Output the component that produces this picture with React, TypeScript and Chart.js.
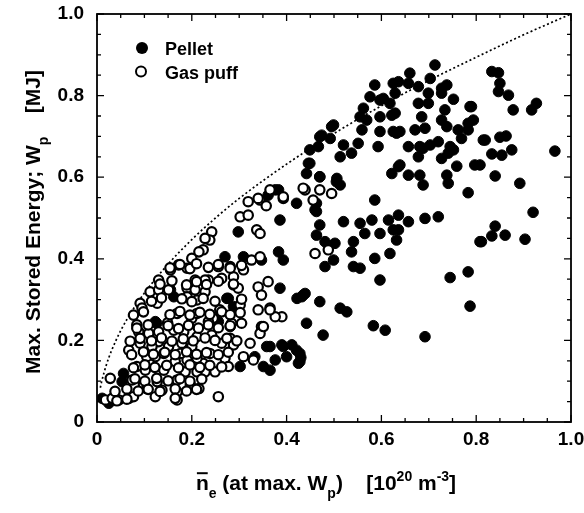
import React, { useEffect, useRef } from 'react';
import { Chart, registerables } from 'chart.js';

Chart.register(...registerables);

const FONT = '"Liberation Sans", Arial, Helvetica, sans-serif';

// Pellet (filled circles)
const pelletX = [
  0.833, 0.847, 0.850, 0.847, 0.868, 0.878, 0.917, 0.927, 0.819, 0.850, 0.863, 0.833, 0.854, 0.875, 0.966, 0.808, 0.840, 0.892, 0.920, 0.840, 0.833, 0.861, 0.811, 0.903,
  0.713, 0.660, 0.703, 0.636, 0.657, 0.678, 0.738, 0.629, 0.699, 0.727, 0.752, 0.678, 0.699, 0.734, 0.790, 0.629, 0.685, 0.727, 0.794, 0.639, 0.671, 0.692, 0.762, 0.783, 0.720, 0.815, 0.657, 0.681, 0.703, 0.745, 0.769, 0.678, 0.727, 0.741, 0.639, 0.759, 0.797, 0.657, 0.681, 0.738, 0.688, 0.741, 0.783, 0.636, 0.657, 0.692, 0.720, 0.636, 0.632, 0.808, 0.783, 0.745, 0.787, 0.692,
  0.586, 0.625, 0.576, 0.597, 0.618, 0.562, 0.555, 0.597, 0.622, 0.499, 0.559, 0.597, 0.625, 0.474, 0.492, 0.467, 0.520, 0.551, 0.593, 0.513, 0.537, 0.449, 0.442, 0.470, 0.506, 0.513, 0.622, 0.636, 0.460, 0.586, 0.520, 0.470, 0.555, 0.580, 0.615, 0.463, 0.481, 0.502, 0.541, 0.565, 0.597, 0.625, 0.537, 0.618, 0.499, 0.481, 0.541, 0.586, 0.555, 0.597, 0.439, 0.470, 0.513, 0.527, 0.422, 0.442, 0.477, 0.583, 0.608, 0.428, 0.430, 0.463,
  0.495, 0.470, 0.449, 0.446, 0.470, 0.505, 0.383, 0.421, 0.463, 0.376, 0.361, 0.386, 0.298, 0.383, 0.393, 0.270, 0.309, 0.347, 0.386, 0.432, 0.435, 0.277, 0.288, 0.281, 0.256,
  0.358, 0.390, 0.411, 0.421, 0.428, 0.400, 0.376, 0.351, 0.365, 0.333, 0.365, 0.393, 0.425, 0.302,
  0.126, 0.123, 0.056, 0.053, 0.038, 0.011, 0.025, 0.162, 0.155, 0.245, 0.274,
  0.727, 0.604, 0.787, 0.569, 0.632, 0.738, 0.783, 0.688, 0.752,
];
const pelletY = [
  0.859, 0.856, 0.830, 0.810, 0.801, 0.765, 0.765, 0.781, 0.691, 0.698, 0.701, 0.657, 0.654, 0.667, 0.664, 0.630, 0.603, 0.585, 0.514, 0.480, 0.456, 0.458, 0.442, 0.448,
  0.875, 0.855, 0.842, 0.834, 0.830, 0.822, 0.826, 0.806, 0.806, 0.806, 0.791, 0.781, 0.781, 0.765, 0.773, 0.757, 0.748, 0.740, 0.740, 0.712, 0.716, 0.720, 0.716, 0.716, 0.687, 0.691, 0.675, 0.675, 0.679, 0.675, 0.695, 0.650, 0.646, 0.659, 0.630, 0.627, 0.630, 0.605, 0.605, 0.605, 0.581, 0.585, 0.562, 0.507, 0.491, 0.499, 0.503, 0.471, 0.446, 0.442, 0.368, 0.354, 0.284, 0.209,
  0.826, 0.830, 0.797, 0.789, 0.781, 0.769, 0.748, 0.748, 0.752, 0.728, 0.716, 0.712, 0.712, 0.703, 0.695, 0.675, 0.679, 0.683, 0.675, 0.650, 0.659, 0.634, 0.609, 0.601, 0.597, 0.581, 0.609, 0.626, 0.520, 0.544, 0.491, 0.483, 0.487, 0.495, 0.495, 0.458, 0.442, 0.438, 0.442, 0.462, 0.462, 0.471, 0.417, 0.413, 0.397, 0.381, 0.381, 0.401, 0.377, 0.348, 0.315, 0.295, 0.279, 0.270, 0.303, 0.242, 0.213, 0.236, 0.225, 0.168, 0.158, 0.536,
  0.724, 0.699, 0.667, 0.634, 0.601, 0.589, 0.569, 0.536, 0.516, 0.569, 0.556, 0.495, 0.466, 0.417, 0.397, 0.405, 0.405, 0.397, 0.328, 0.307, 0.311, 0.303, 0.283, 0.234, 0.246,
  0.185, 0.189, 0.189, 0.176, 0.148, 0.160, 0.152, 0.136, 0.127, 0.160, 0.185, 0.185, 0.144, 0.136,
  0.242, 0.246, 0.119, 0.099, 0.054, 0.058, 0.046, 0.307, 0.324, 0.250, 0.303,
  0.818, 0.793, 0.773, 0.740, 0.708, 0.724, 0.732, 0.671, 0.667,
];

// Gas puff (open circles)
const gasX = [
  0.439, 0.470, 0.495, 0.456, 0.460, 0.488, 0.435, 0.393, 0.365, 0.344, 0.319, 0.357, 0.340, 0.393, 0.302, 0.319, 0.242, 0.238, 0.337, 0.344, 0.224, 0.326, 0.344, 0.256, 0.281, 0.309, 0.235, 0.263, 0.288, 0.288, 0.298, 0.340, 0.361, 0.347, 0.228, 0.302, 0.340, 0.365, 0.390, 0.376, 0.259, 0.245, 0.235, 0.284, 0.305, 0.347, 0.344, 0.242, 0.281, 0.263, 0.288, 0.323, 0.309, 0.330, 0.238, 0.270, 0.224, 0.249, 0.277, 0.228, 0.256, 0.365, 0.351,
  0.228, 0.215, 0.200, 0.172, 0.190, 0.155, 0.130, 0.112, 0.130, 0.151, 0.190, 0.207, 0.207, 0.228, 0.091, 0.190, 0.211,
  0.095, 0.127, 0.084, 0.088, 0.067, 0.109, 0.130, 0.149, 0.162, 0.183, 0.211, 0.169, 0.200, 0.211, 0.130, 0.151, 0.105, 0.123, 0.165, 0.190, 0.211, 0.084, 0.102, 0.141, 0.186, 0.211, 0.028, 0.074, 0.098, 0.127, 0.169, 0.197, 0.215, 0.169, 0.169, 0.018, 0.032, 0.046, 0.067, 0.077, 0.105, 0.137, 0.123, 0.091, 0.116, 0.141, 0.179, 0.200, 0.176,
  0.154, 0.175, 0.196, 0.210, 0.235, 0.256, 0.281, 0.305,
  0.133, 0.158, 0.189, 0.210, 0.231, 0.256, 0.288,
  0.115, 0.136, 0.179, 0.200, 0.224, 0.249, 0.305,
  0.077, 0.098, 0.154, 0.175, 0.196, 0.217, 0.238, 0.263, 0.281, 0.302,
  0.084, 0.108, 0.150, 0.172, 0.193, 0.214, 0.235, 0.256, 0.281,
  0.070, 0.091, 0.115, 0.136, 0.158, 0.182, 0.203, 0.228, 0.249, 0.274, 0.295,
  0.073, 0.098, 0.119, 0.143, 0.165, 0.189, 0.210, 0.231, 0.256, 0.277,
  0.077, 0.101, 0.122, 0.147, 0.172, 0.196, 0.217, 0.238, 0.263,
  0.080, 0.101, 0.126, 0.150, 0.175, 0.196, 0.221,
  0.038, 0.063, 0.087, 0.108, 0.133, 0.165, 0.189, 0.210,
  0.042, 0.063, 0.165,
];
const gasY = [
  0.569, 0.569, 0.560, 0.544, 0.413, 0.422, 0.573, 0.548, 0.569, 0.544, 0.540, 0.530, 0.548, 0.552, 0.503, 0.507, 0.466, 0.446, 0.471, 0.462, 0.422, 0.397, 0.405, 0.381, 0.381, 0.373, 0.348, 0.352, 0.356, 0.336, 0.328, 0.331, 0.344, 0.311, 0.319, 0.287, 0.275, 0.279, 0.258, 0.258, 0.275, 0.254, 0.246, 0.242, 0.242, 0.234, 0.217, 0.213, 0.205, 0.193, 0.189, 0.193, 0.160, 0.152, 0.168, 0.156, 0.144, 0.123, 0.136, 0.123, 0.062, 0.275, 0.234,
  0.450, 0.417, 0.401, 0.385, 0.377, 0.373, 0.348, 0.319, 0.324, 0.324, 0.328, 0.348, 0.324, 0.348, 0.291, 0.307, 0.299,
  0.279, 0.291, 0.238, 0.221, 0.176, 0.217, 0.221, 0.243, 0.225, 0.221, 0.209, 0.266, 0.254, 0.266, 0.197, 0.185, 0.160, 0.160, 0.148, 0.152, 0.156, 0.136, 0.127, 0.127, 0.123, 0.123, 0.107, 0.103, 0.091, 0.099, 0.103, 0.091, 0.082, 0.074, 0.054, 0.054, 0.058, 0.054, 0.058, 0.062, 0.082, 0.078, 0.062, 0.193, 0.185, 0.168, 0.193, 0.185, 0.168,
  0.378, 0.386, 0.376, 0.388, 0.379, 0.386, 0.377, 0.384,
  0.338, 0.346, 0.336, 0.344, 0.337, 0.345, 0.338,
  0.296, 0.304, 0.302, 0.295, 0.303, 0.296, 0.301,
  0.262, 0.270, 0.263, 0.271, 0.262, 0.269, 0.264, 0.270, 0.263, 0.268,
  0.230, 0.238, 0.236, 0.229, 0.237, 0.230, 0.238, 0.231, 0.236,
  0.198, 0.205, 0.199, 0.206, 0.198, 0.204, 0.199, 0.206, 0.200, 0.205, 0.199,
  0.165, 0.172, 0.166, 0.171, 0.165, 0.172, 0.166, 0.170, 0.165, 0.171,
  0.133, 0.140, 0.134, 0.139, 0.133, 0.140, 0.134, 0.139, 0.135,
  0.106, 0.100, 0.107, 0.101, 0.106, 0.100, 0.105,
  0.075, 0.081, 0.076, 0.080, 0.075, 0.081, 0.076, 0.080,
  0.052, 0.056, 0.058,
];

// Dotted reference curve
const curveX = [0.007, 0.01, 0.02, 0.03, 0.05, 0.075, 0.1, 0.15, 0.2, 0.25, 0.3, 0.4, 0.5, 0.6, 0.7, 0.8, 0.9, 1.0];
const curveY = [0.084, 0.1, 0.141, 0.173, 0.224, 0.274, 0.316, 0.387, 0.447, 0.5, 0.548, 0.632, 0.707, 0.775, 0.837, 0.894, 0.949, 1.0];

const xTickLabels = ['0', '0.2', '0.4', '0.6', '0.8', '1.0'];
const yTickLabels = ['0', '0.2', '0.4', '0.6', '0.8', '1.0'];
const legendLabels = ['Pellet', 'Gas puff'];

type Seg = { t: string; size: number; dy: number; over?: boolean };

function drawSegs(ctx: CanvasRenderingContext2D, segs: Seg[], cx: number, baseY: number) {
  let total = 0;
  const widths = segs.map((s) => {
    ctx.font = `bold ${s.size}px ${FONT}`;
    const w = ctx.measureText(s.t).width;
    total += w;
    return w;
  });
  let x = cx - total / 2;
  ctx.textAlign = 'left';
  ctx.textBaseline = 'alphabetic';
  segs.forEach((s, i) => {
    ctx.font = `bold ${s.size}px ${FONT}`;
    ctx.fillText(s.t, x, baseY + s.dy);
    if (s.over) {
      ctx.beginPath();
      ctx.lineWidth = 2;
      ctx.moveTo(x + 1, baseY - s.size * 0.8);
      ctx.lineTo(x + widths[i] - 1, baseY - s.size * 0.8);
      ctx.stroke();
    }
    x += widths[i];
  });
}

const framePlugin = {
  id: 'framePlugin',
  afterDraw(chart: any) {
    const ctx: CanvasRenderingContext2D = chart.ctx;
    const { left, right, top, bottom } = chart.chartArea;
    const xs = chart.scales.x;
    const ys = chart.scales.y;
    ctx.save();
    ctx.strokeStyle = '#000';
    ctx.fillStyle = '#000';
    ctx.lineWidth = 1.8;
    ctx.strokeRect(left, top, right - left, bottom - top);
    ctx.lineWidth = 1.3;
    for (let i = 0; i <= 20; i++) {
      const v = i * 0.05;
      const len = i % 4 === 0 ? 7 : 4;
      const px = xs.getPixelForValue(v);
      const py = ys.getPixelForValue(v);
      ctx.beginPath();
      ctx.moveTo(px, bottom); ctx.lineTo(px, bottom - len);
      ctx.moveTo(px, top); ctx.lineTo(px, top + len);
      ctx.moveTo(left, py); ctx.lineTo(left + len, py);
      ctx.moveTo(right, py); ctx.lineTo(right - len, py);
      ctx.stroke();
    }

    // Legend
    const pel = chart.data.datasets[1];
    const gas = chart.data.datasets[0];
    ctx.beginPath();
    ctx.arc(142, 48, 6, 0, Math.PI * 2);
    ctx.fillStyle = pel.pointBackgroundColor;
    ctx.fill();
    ctx.beginPath();
    ctx.arc(141, 71.5, 5, 0, Math.PI * 2);
    ctx.fillStyle = gas.pointBackgroundColor;
    ctx.fill();
    ctx.lineWidth = 2;
    ctx.stroke();
    ctx.fillStyle = '#000';
    ctx.font = `bold 18px ${FONT}`;
    ctx.textAlign = 'left';
    ctx.textBaseline = 'alphabetic';
    ctx.fillText(legendLabels[0], 165, 55);
    ctx.fillText(legendLabels[1], 165, 78.5);

    // X title
    drawSegs(ctx, [
      { t: 'n', size: 21, dy: 0, over: true },
      { t: 'e', size: 14, dy: 8 },
      { t: ' (at max. W', size: 21, dy: 0 },
      { t: 'p', size: 14, dy: 8 },
      { t: ')    [10', size: 21, dy: 0 },
      { t: '20', size: 14, dy: -9 },
      { t: ' m', size: 21, dy: 0 },
      { t: '-3', size: 14, dy: -9 },
      { t: ']', size: 21, dy: 0 },
    ], 326, 490);

    // Y title
    ctx.translate(40, 222);
    ctx.rotate(-Math.PI / 2);
    drawSegs(ctx, [
      { t: 'Max. Stored Energy; W', size: 21, dy: 0 },
      { t: 'p', size: 14, dy: 8 },
      { t: '    [MJ]', size: 21, dy: 0 },
    ], 0, 0);
    ctx.restore();
  },
};

export default function App() {
  const ref = useRef<HTMLCanvasElement>(null);
  useEffect(() => {
    const canvas = ref.current;
    if (!canvas) return;
    const chart = new Chart(canvas, {
      type: 'scatter',
      data: {
        datasets: [
          {
            label: legendLabels[1],
            data: gasX.map((x, i) => ({ x, y: gasY[i] })),
            pointRadius: 4.7,
            pointBorderWidth: 2.2,
            pointBackgroundColor: '#ffffff',
            pointBorderColor: '#000000',
            order: 0,
          },
          {
            label: legendLabels[0],
            data: pelletX.map((x, i) => ({ x, y: pelletY[i] })),
            pointRadius: 5.3,
            pointBorderWidth: 1,
            pointBackgroundColor: '#000000',
            pointBorderColor: '#000000',
            order: 1,
          },
          {
            label: 'curve',
            data: curveX.map((x, i) => ({ x, y: curveY[i] })),
            showLine: true,
            pointRadius: 0,
            borderColor: '#000000',
            borderWidth: 1.7,
            borderDash: [2, 2.5],
            cubicInterpolationMode: 'monotone',
            fill: false,
            order: 2,
          } as any,
        ],
      },
      options: {
        responsive: false,
        devicePixelRatio: 1,
        animation: false,
        layout: { padding: { top: 14, right: 13, left: 0, bottom: 0 } },
        plugins: { legend: { display: false }, tooltip: { enabled: false } },
        scales: {
          x: {
            type: 'linear',
            min: 0,
            max: 1,
            grid: { display: false, drawTicks: false },
            border: { display: false },
            ticks: {
              stepSize: 0.2,
              padding: 6,
              color: '#000',
              font: { family: FONT, size: 19, weight: 'bold' },
              maxRotation: 0,
              callback: (_v: any, i: number) => xTickLabels[i],
            },
            afterFit: (s: any) => {
              s.height = 91;
              s.paddingLeft = 0;
              s.paddingRight = 0;
            },
          },
          y: {
            type: 'linear',
            min: 0,
            max: 1,
            grid: { display: false, drawTicks: false },
            border: { display: false },
            ticks: {
              stepSize: 0.2,
              padding: 13,
              color: '#000',
              font: { family: FONT, size: 19, weight: 'bold' },
              callback: (_v: any, i: number) => yTickLabels[i],
            },
            afterFit: (s: any) => {
              s.width = 97;
              s.paddingTop = 0;
              s.paddingBottom = 0;
            },
          },
        },
      },
      plugins: [framePlugin],
    });
    return () => chart.destroy();
  }, []);
  return (
    <canvas
      ref={ref}
      width={584}
      height={513}
      style={{ position: 'absolute', left: 0, top: 0, width: 584, height: 513 }}
    />
  );
}
